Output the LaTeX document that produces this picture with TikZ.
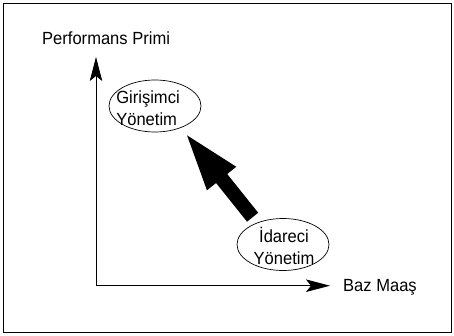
\documentclass[tikz,border=0pt]{standalone}
\usepackage{fontspec}
\setmainfont[FakeStretch=0.94]{Liberation Sans}
\usetikzlibrary{arrows.meta, positioning, shapes.geometric}

\begin{document}
\begin{tikzpicture}[x=1pt, y=1pt,
    axis/.style={line width=0.8pt, -{Stealth[length=24pt, width=12.5pt, inset=5pt]}},
    oval/.style={draw, ellipse, line width=0.7pt, minimum width=92pt, minimum height=52pt, inner sep=0pt},
    lbl/.style={font=\fontsize{17.6}{21.5}\selectfont, inner sep=0pt},
    bigarrow/.style={line width=14.3pt, -{Triangle[length=61pt, width=32.4pt]}}]
    \useasboundingbox (0,0) rectangle (454,335);
    % cerceve
    \draw[line width=0.8pt] (3,2.5) rectangle (451.5,332);

    % eksenler
    \coordinate (o) at (96,49.3);
    \coordinate (ytop) at (96,278);
    \coordinate (xend) at (330,49.3);
    \draw[axis] (o) -- (ytop);
    \draw[axis] (o) -- (xend);
    \node[lbl, anchor=base west] (ylabel) at (42,290) {Performans Primi};
    \node[lbl, anchor=base west] (xlabel) at (343,43.3) {Baz Maaş};

    % yonetim tipleri
    \node[oval] (girisimci) at (155,229) {};
    \node[oval] (idareci) at (283,90.5) {};
    \node[lbl, align=left, xshift=-7pt, yshift=-2pt] (girisimcitxt) at (girisimci) {Girişimci\\Yönetim};
    \node[lbl, align=center, xshift=1pt, yshift=-1.5pt] (idarecitxt) at (idareci) {İdareci\\Yönetim};

    % gecis oku
    \draw[bigarrow, shorten <=7pt, shorten >=4pt] (idareci.140.5) -- (girisimci.-40.6);
\end{tikzpicture}
\end{document}
